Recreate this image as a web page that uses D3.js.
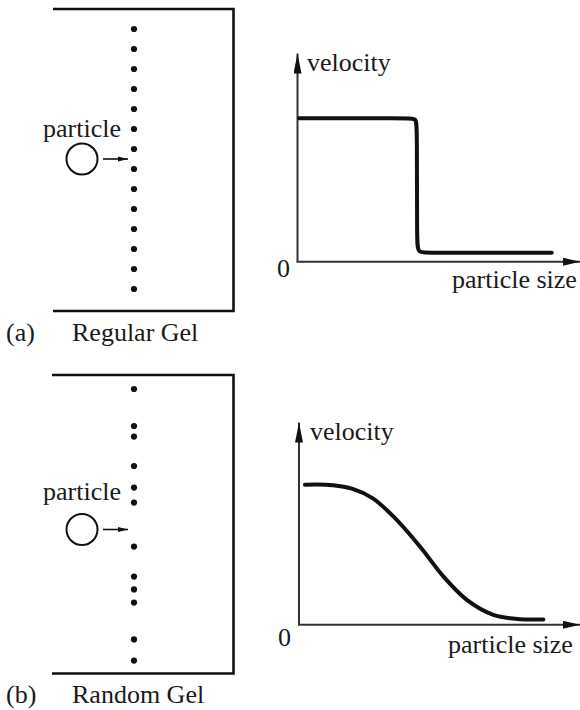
<!DOCTYPE html>
<html>
<head>
<meta charset="utf-8">
<script src="https://cdn.jsdelivr.net/npm/d3@7"></script>
<style>
  html, body { margin: 0; padding: 0; background: #fff; }
  svg { display: block; }
</style>
</head>
<body>
<svg id="chart" width="580" height="710"></svg>
<script>
// ---- data ----
// gel obstacle positions along the gel depth (arbitrary units)
const regularGelDots = [1, 2, 3, 4, 5, 6, 7, 8, 9, 10, 11, 12, 13, 14];
const randomGelDots = [0.7, 2.55, 3.08, 4.55, 5.63, 6.38, 8.58, 10.08, 10.72, 11.38, 13.22, 14.28];
// velocity vs particle size curves (arbitrary units)
const regularSize =     [0.06, 3.9, 4.2, 4.23, 4.23, 4.25, 4.6, 9.0];
const regularVelocity = [6.88, 6.88, 6.88, 6.5, 1.0, 0.43, 0.43, 0.43];
const randomSize =      [0.21, 1.2, 1.9, 2.6, 3.34, 4.28, 5.11, 5.94, 6.88, 7.82, 8.65];
const randomVelocity =  [6.72, 6.70, 6.52, 6.08, 5.20, 3.76, 2.32, 1.20, 0.48, 0.27, 0.26];
const panelLetters = ["(a)", "(b)"];
const gelNames = ["Regular Gel", "Random Gel"];
const axisLabels = { x: "particle size", y: "velocity", origin: "0", particle: "particle" };

const FONT = "'Liberation Serif', 'Times New Roman', Times, 'DejaVu Serif', serif";
const svg = d3.select("#chart");
const ink = "#111";

// arrow markers
const defs = svg.append("defs");
defs.append("marker").attr("id", "axArrowV")
  .attr("viewBox", "0 0 20 8").attr("refX", 20).attr("refY", 4)
  .attr("markerWidth", 20).attr("markerHeight", 8).attr("markerUnits", "userSpaceOnUse")
  .attr("orient", "auto")
  .append("path").attr("d", "M0,0 L20,4 L0,8 Z").attr("fill", ink);
defs.append("marker").attr("id", "axArrowH")
  .attr("viewBox", "0 0 17 8").attr("refX", 17).attr("refY", 4)
  .attr("markerWidth", 17).attr("markerHeight", 8).attr("markerUnits", "userSpaceOnUse")
  .attr("orient", "auto")
  .append("path").attr("d", "M0,0 L17,4 L0,8 Z").attr("fill", ink);
defs.append("marker").attr("id", "smallArrow")
  .attr("viewBox", "0 0 10 6").attr("refX", 10).attr("refY", 3)
  .attr("markerWidth", 10).attr("markerHeight", 6).attr("markerUnits", "userSpaceOnUse")
  .attr("orient", "auto")
  .append("path").attr("d", "M0,0.5 L10,3 L0,5.5 Z").attr("fill", ink);

const panels = [
  {
    letter: panelLetters[0], name: gelNames[0], dots: regularGelDots,
    box: { left: 53, right: 233.5, top: 9, bottom: 311 }, depthMax: 15.1,
    circle: { cx: 82, cy: 159 }, particleY: 137,
    labelY: 341,
    plot: { x0: 297.5, y0: 261.7, xTip: 580, yTip: 53.5 },
    size: regularSize, vel: regularVelocity, curve: d3.curveBasis,
    zeroX: 277, zeroY: 277, sizeX: 452, sizeY: 288, velX: 307, velY: 71
  },
  {
    letter: panelLetters[1], name: gelNames[1], dots: randomGelDots,
    box: { left: 52, right: 233.5, top: 375, bottom: 673.5 }, depthMax: 14.925,
    circle: { cx: 82, cy: 529.5 }, particleY: 500,
    labelY: 703,
    plot: { x0: 299, y0: 624.8, xTip: 580, yTip: 422.5 },
    size: randomSize, vel: randomVelocity, curve: d3.curveCatmullRom.alpha(0.5),
    zeroX: 278, zeroY: 646, sizeX: 448, sizeY: 653, velX: 310, velY: 440
  }
];

function label(g, x, y, s) {
  g.append("text").attr("x", x).attr("y", y)
    .attr("font-family", FONT).attr("font-size", 26).attr("fill", "#1a1a1a").text(s);
}

panels.forEach(p => {
  const g = svg.append("g");
  // gel box (open on the left)
  g.append("path")
    .attr("d", `M${p.box.left},${p.box.top} L${p.box.right},${p.box.top} L${p.box.right},${p.box.bottom} L${p.box.left},${p.box.bottom}`)
    .attr("fill", "none").attr("stroke", ink).attr("stroke-width", 2.6);

  const depth = d3.scaleLinear().domain([0, p.depthMax]).range([p.box.top, p.box.bottom]);
  g.selectAll("circle.dot").data(p.dots).join("circle")
    .attr("class", "dot").attr("cx", 134).attr("cy", d => depth(d)).attr("r", 3.1).attr("fill", ink);

  // particle
  g.append("circle").attr("cx", p.circle.cx).attr("cy", p.circle.cy).attr("r", 15.5)
    .attr("fill", "none").attr("stroke", ink).attr("stroke-width", 2);
  g.append("line").attr("x1", p.circle.cx + 21).attr("x2", 128)
    .attr("y1", p.circle.cy).attr("y2", p.circle.cy)
    .attr("stroke", ink).attr("stroke-width", 1.6).attr("marker-end", "url(#smallArrow)");
  label(g, 43, p.particleY, axisLabels.particle);

  label(g, 6, p.labelY, p.letter);
  label(g, 72, p.labelY, p.name);

  // plot scales
  const x = d3.scaleLinear().domain([0, 10]).range([p.plot.x0, p.plot.x0 + 282.5]);
  const y = d3.scaleLinear().domain([0, 10]).range([p.plot.y0, p.plot.y0 - 208.4]);

  // axes
  g.append("line").attr("x1", p.plot.x0).attr("y1", p.plot.y0)
    .attr("x2", p.plot.x0).attr("y2", p.plot.yTip)
    .attr("stroke", "#333").attr("stroke-width", 2).attr("marker-end", "url(#axArrowV)");
  g.append("line").attr("x1", p.plot.x0 - 1).attr("y1", p.plot.y0)
    .attr("x2", p.plot.xTip).attr("y2", p.plot.y0)
    .attr("stroke", "#333").attr("stroke-width", 2).attr("marker-end", "url(#axArrowH)");

  const pts = p.size.map((s, i) => [s, p.vel[i]]);
  g.append("path").datum(pts)
    .attr("d", d3.line().x(d => x(d[0])).y(d => y(d[1])).curve(p.curve))
    .attr("fill", "none").attr("stroke", ink).attr("stroke-width", 4).attr("stroke-linecap", "round");

  label(g, p.zeroX, p.zeroY, axisLabels.origin);
  label(g, p.sizeX, p.sizeY, axisLabels.x);
  label(g, p.velX, p.velY, axisLabels.y);
});
</script>
</body>
</html>
